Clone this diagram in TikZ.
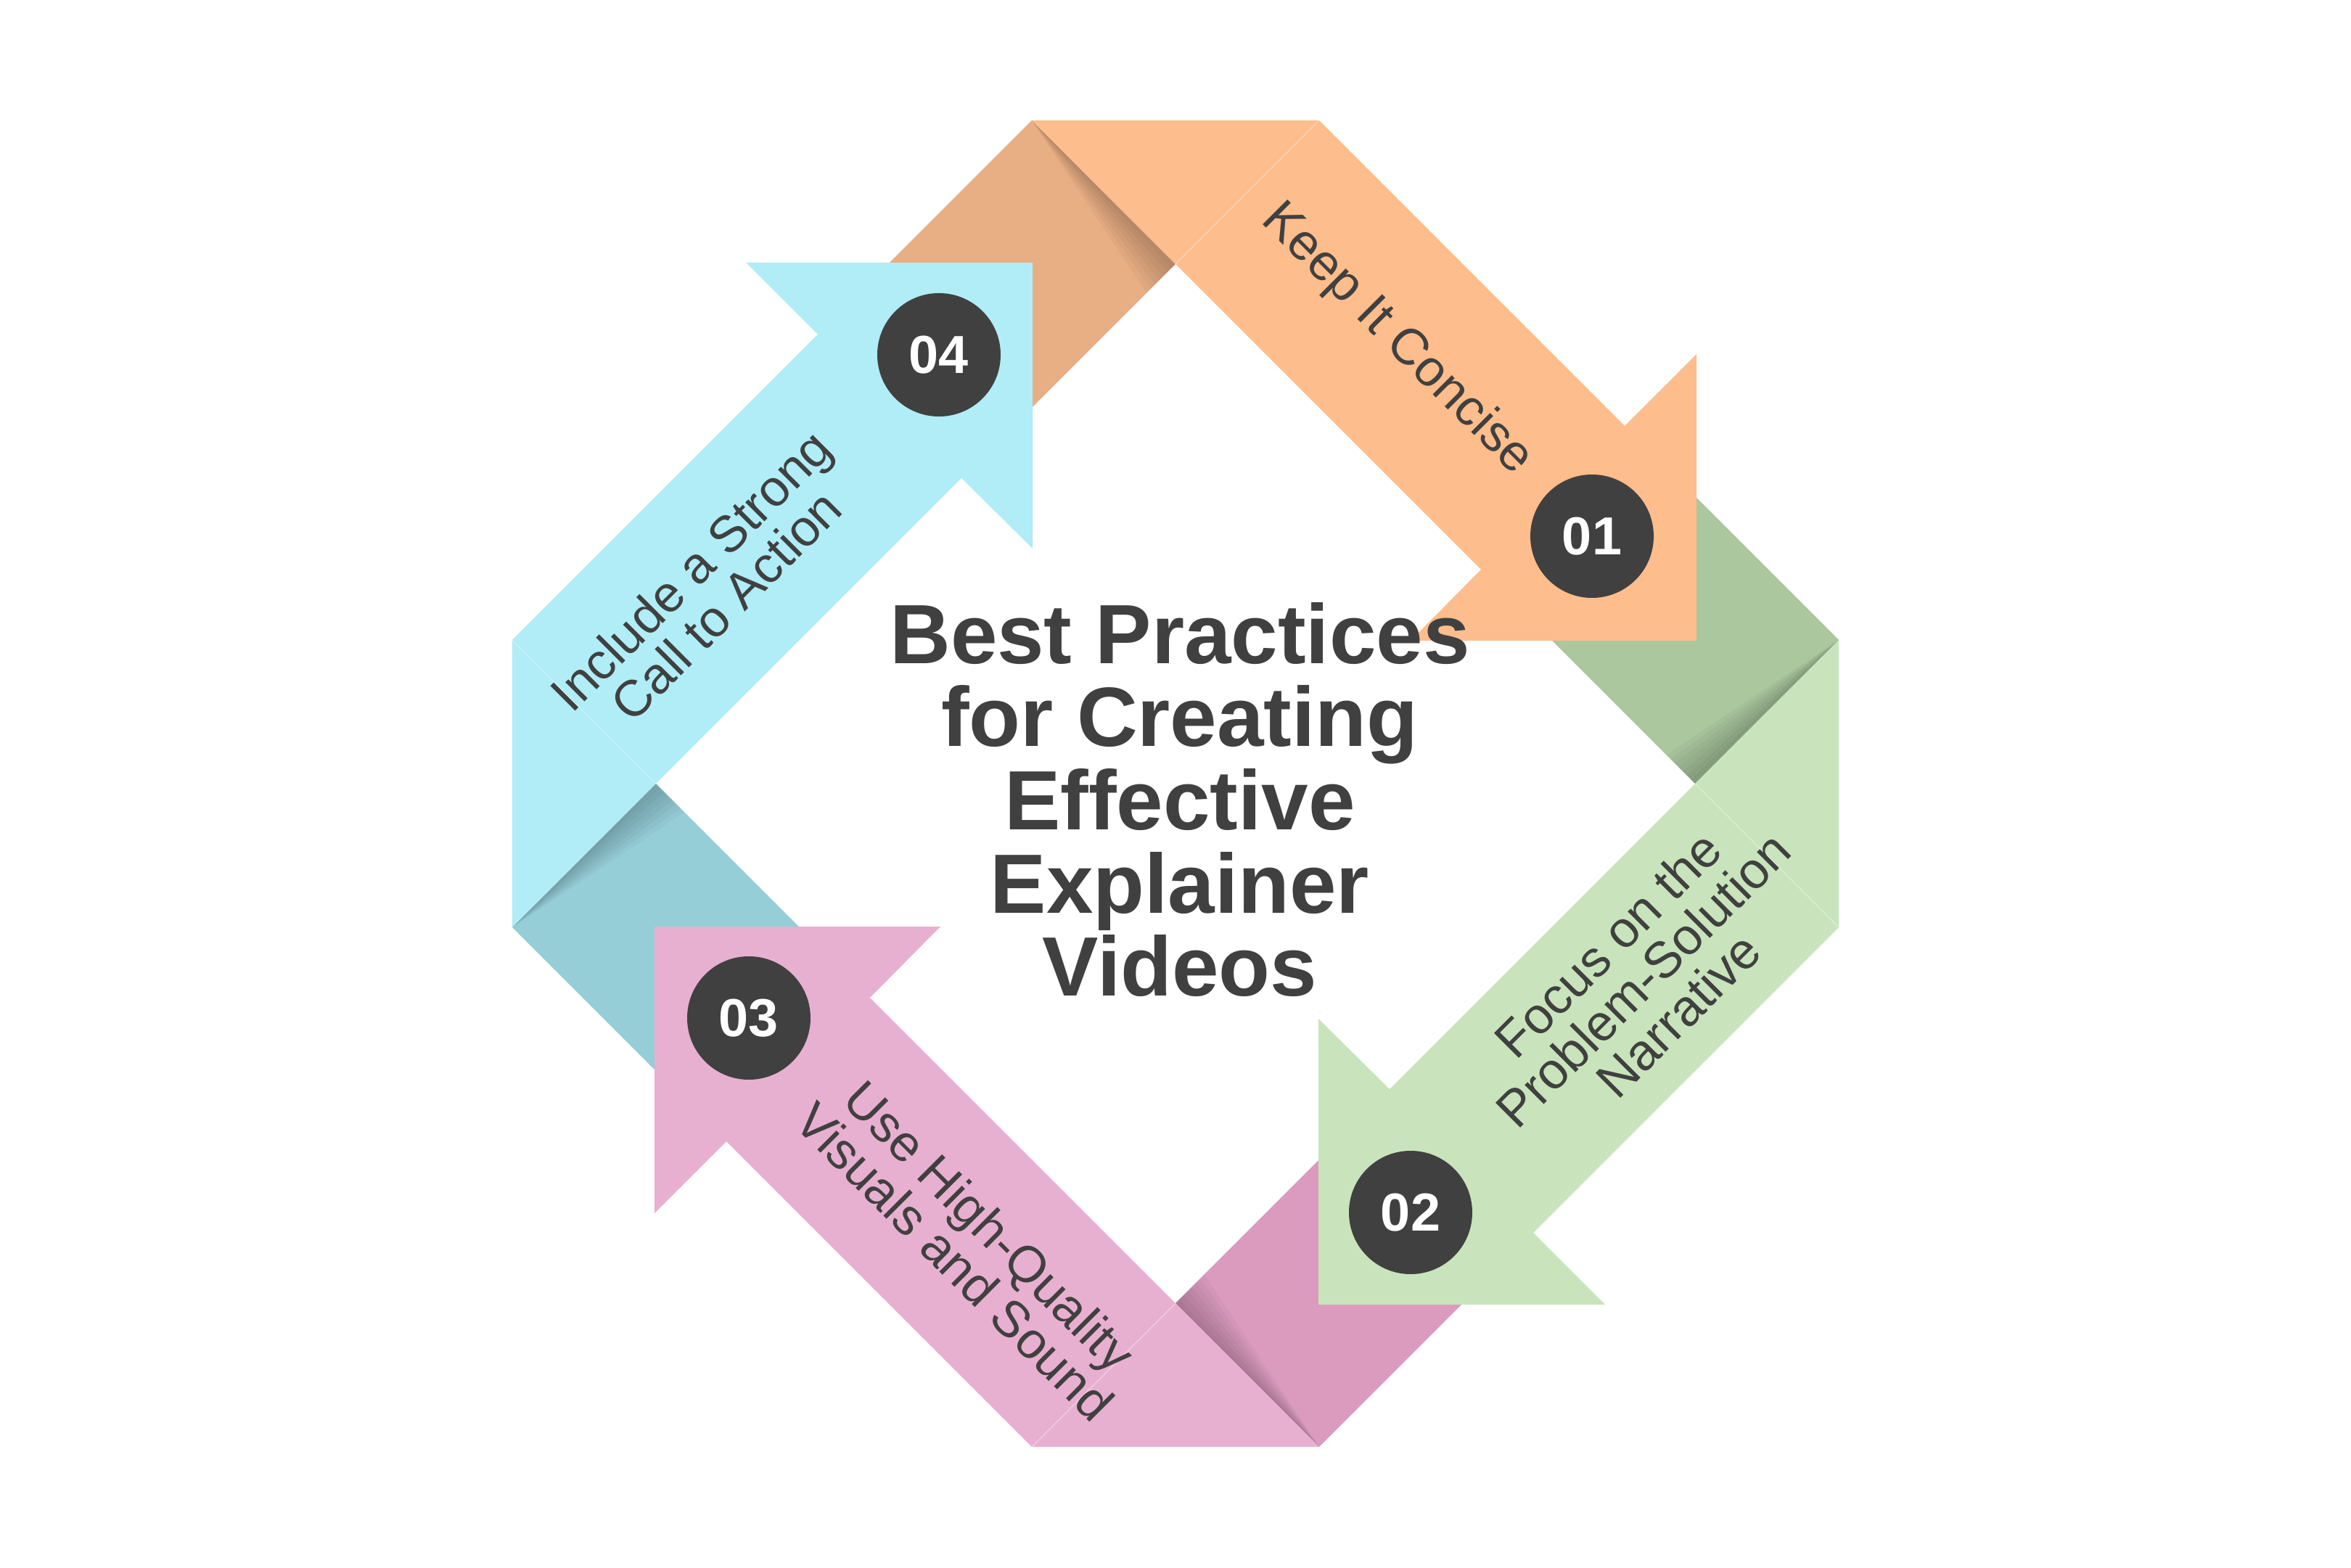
\documentclass[tikz,border=0pt]{standalone}
\usepackage{fontspec}
\setmainfont{Liberation Sans}
\usetikzlibrary{shapes.geometric}

\definecolor{orangeL}{HTML}{FEBD8C}
\definecolor{orangeD}{HTML}{E8AE84}
\definecolor{greenL}{HTML}{C9E4BC}
\definecolor{greenD}{HTML}{AAC79E}
\definecolor{pinkL}{HTML}{E8B0D0}
\definecolor{pinkD}{HTML}{DA9BBE}
\definecolor{cyanL}{HTML}{B0EDF7}
\definecolor{cyanD}{HTML}{96CED8}
\definecolor{ink}{HTML}{404040}

\begin{document}
\begin{tikzpicture}[
		num/.style={circle, fill=ink, text=white, minimum size=1.7cm, inner sep=0pt, font=\fontsize{21}{21}\selectfont\bfseries},
		lbl/.style={text=ink, align=center, inner sep=0pt, font=\fontsize{20}{19.5}\selectfont},
		ttl/.style={text=ink, align=center, inner sep=0pt, font=\fontsize{33}{32.6}\selectfont\bfseries}
	]
				\fill[white] (-16.2,-10.8) rectangle (16.2,10.8);
				\useasboundingbox (-16.2,-10.8) rectangle (16.2,10.8);

				% folded parts, under the next arrow
				\foreach \ang/\dk in {0/orangeD, -90/greenD, -180/pinkD, -270/cyanD} {
					\begin{scope}[rotate=\ang]
						\fill[\dk] (-1.98,9.14) -- (0,7.16) -- (-2.95,4.21) -- (-4.93,6.19) -- cycle;
						\begin{scope}[shift={(0,7.16)}, rotate=135]
							\foreach \w in {0.08,0.16,...,0.64}
								\fill[black, opacity=0.03] (2.8,0) -- (0,0) -- (0,\w) -- cycle; % shadow on the crease
						\end{scope}
					\end{scope}
				}

				% the four arrows
				\foreach \ang/\lt in {0/orangeL, -90/greenL, -180/pinkL, -270/cyanL} {
					\begin{scope}[rotate=\ang]
						\fill[\lt] (-1.98,9.14) -- (1.98,9.14) -- (6.19,4.93) -- (7.18,5.92) -- (7.18,1.97)
							-- (3.24,1.97) -- (4.21,2.95) -- (0,7.16) -- cycle;
						\draw[white, opacity=0.35, line width=0.4pt] (0,7.16) -- (1.98,9.14); % seam
					\end{scope}
				}

				\node[num] (n1) at (5.74,3.41) {01};
				\node[num] (n2) at (3.24,-5.91) {02};
				\node[num] (n3) at (-5.88,-3.23) {03};
				\node[num] (n4) at (-3.26,5.91) {04};

				\node[lbl, rotate=-45] (t1) at (3.05,6.12) {Keep It Concise};
				\node[lbl, rotate=45] (t2) at (6.44,-2.70) {Focus on the\\Problem-Solution\\Narrative};
				\node[lbl, rotate=-45] (t3) at (-2.80,-6.34) {Use High-Quality\\Visuals and Sound};
				\node[lbl, rotate=45] (t4) at (-6.44,2.70) {Include a Strong\\Call to Action};

				\node[ttl] (title) at (0.06,-0.22) {Best Practices\\for Creating\\Effective\\Explainer\\Videos};
			\end{tikzpicture}
\end{document}
